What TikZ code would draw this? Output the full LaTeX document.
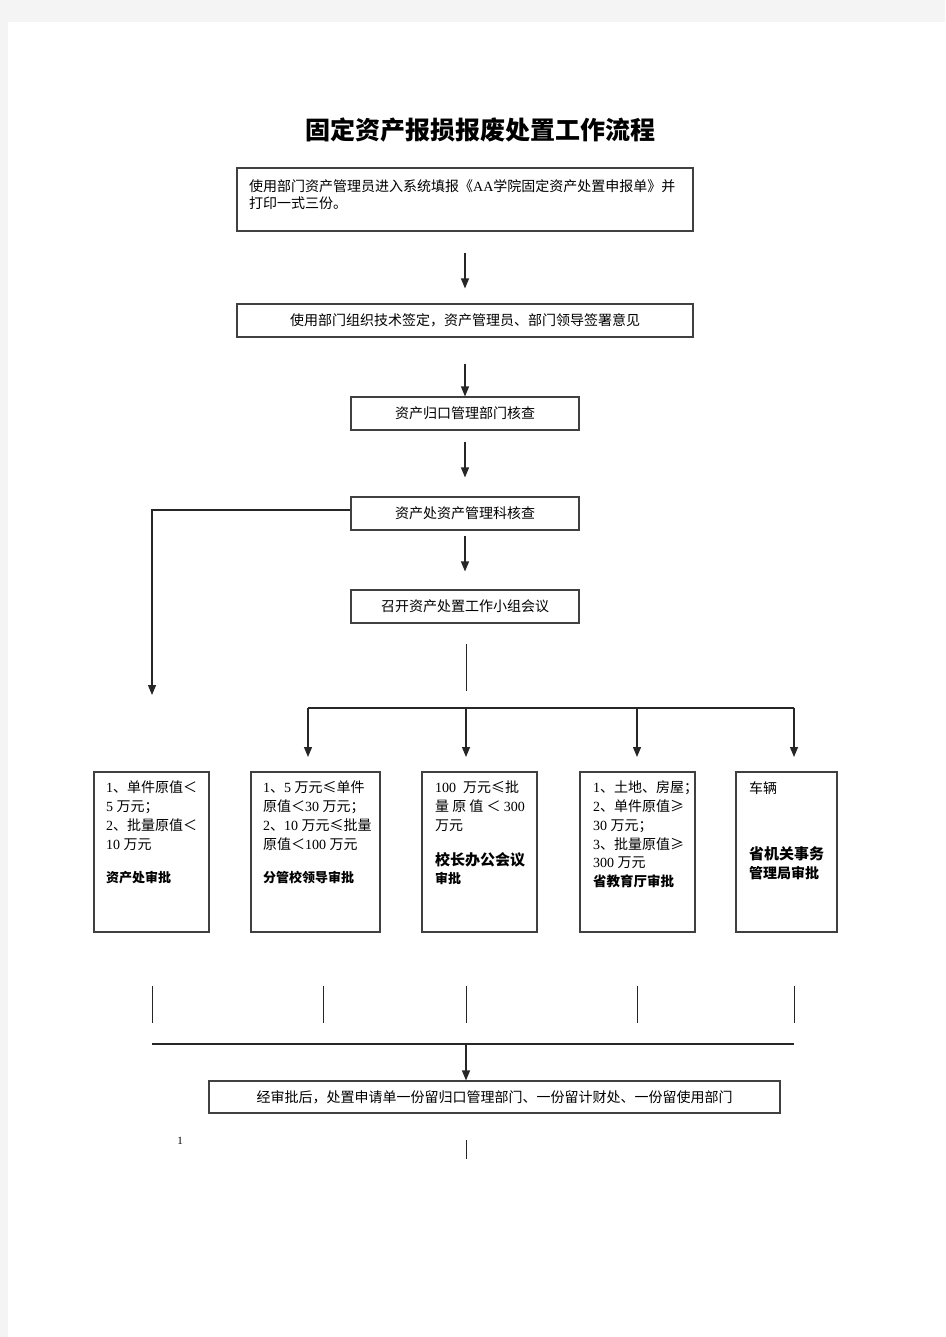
\documentclass[tikz,border=0pt]{standalone}
\usepackage{fontspec}
\setmainfont{Liberation Serif}
\newfontfamily\cjk{Noto Sans CJK SC}
\newfontfamily\tm{Liberation Serif}
\usetikzlibrary{arrows.meta}
\definecolor{pagegray}{HTML}{F4F4F4}

\begin{document}
\begin{tikzpicture}[x=1pt, y=-1pt, >={Triangle[width=8pt,length=10pt]}]
  \tikzstyle{box} = [draw=black!75, line width=1.1pt, inner sep=0pt, font=\cjk\fontsize{14}{18}\selectfont]
  \tikzstyle{txt} = [anchor=north west, inner sep=0pt, align=left, font=\cjk\fontsize{14}{18.7}\selectfont]
  \tikzstyle{flow} = [line width=1.2pt, draw=black!85]
  \tikzstyle{stub} = [line width=0.8pt, draw=black!85]
  \useasboundingbox (0,0) rectangle (945,1337);
  \fill[pagegray] (0,0) rectangle (945,1337);
  \fill[white] (8,22) rectangle (945,1337);

  \node (title) [font=\cjk\bfseries\fontsize{25}{25}\selectfont] at (480,130) {固定资产报损报废处置工作流程};

  \node (apply) [box, minimum width=456, minimum height=63] at (465,199.5) {};
  \node (applytext) [txt, font=\cjk\fontsize{14}{17.5}\selectfont] at (249,179)
    {使用部门资产管理员进入系统填报《{\tm AA}学院固定资产处置申报单》并\\打印一式三份。};
  \node (sign) [box, minimum width=456, minimum height=33] at (465,320.5) {使用部门组织技术签定，资产管理员、部门领导签署意见};
  \node (dept) [box, minimum width=228, minimum height=33] at (465,413.5) {资产归口管理部门核查};
  \node (check) [box, minimum width=228, minimum height=33] at (465,513.5) {资产处资产管理科核查};
  \node (meeting) [box, minimum width=228, minimum height=33] at (465,606.5) {召开资产处置工作小组会议};

  \draw[flow,->,shorten <=21pt,shorten >=15pt] (apply) -- (sign);
  \draw[flow,->,shorten <=26pt] (sign) -- (dept);
  \draw[flow,->,shorten <=11pt,shorten >=19pt] (dept) -- (check);
  \draw[flow,->,shorten <=5pt,shorten >=18pt] (check) -- (meeting);

  \coordinate (split) at (466,708);
  \coordinate (to1) at (152,695);
  \coordinate (to2) at (308,757);
  \coordinate (to3) at (466,757);
  \coordinate (to4) at (637,757);
  \coordinate (to5) at (794,757);
  \draw[flow,->] ([yshift=3.5pt]check.west) -| (to1);
  \draw[stub,shorten <=20pt,shorten >=17pt] (meeting.south -| split) -- (split);
  \draw[flow] (to2 |- split) -- (to5 |- split);
  \draw[flow,->] (to2 |- split) -- (to2);
  \draw[flow,->] (split) -- (to3);
  \draw[flow,->] (to4 |- split) -- (to4);
  \draw[flow,->] (to5 |- split) -- (to5);

  \node (r1) [box, minimum width=115, minimum height=160] at (151.5,852) {};
  \node (r2) [box, minimum width=129, minimum height=160] at (315.5,852) {};
  \node (r3) [box, minimum width=115, minimum height=160] at (479.5,852) {};
  \node (r4) [box, minimum width=115, minimum height=160] at (637.5,852) {};
  \node (r5) [box, minimum width=101, minimum height=160] at (786.5,852) {};

  \node (r1text) [txt] at (106,781)
    {{\tm 1}、单件原值＜\\{\tm 5\ }万元；\\{\tm 2}、批量原值＜\\{\tm 10\ }万元\\[15pt]{\bfseries\fontsize{13}{18.7}\selectfont 资产处审批}};
  \node (r2text) [txt] at (263,781)
    {{\tm 1}、{\tm 5\ }万元≤单件\\原值＜{\tm 30\ }万元；\\{\tm 2}、{\tm 10\ }万元≤批量\\原值＜{\tm 100\ }万元\\[15pt]{\bfseries\fontsize{13}{18.7}\selectfont 分管校领导审批}};
  \node (r3text) [txt] at (435,781)
    {{\tm 100\ \ }万元≤批\\量 原 值 ＜ {\tm 300}\\万元\\[16pt]{\bfseries\fontsize{15}{18}\selectfont 校长办公会议}\\{\bfseries\fontsize{13}{18}\selectfont 审批}};
  \node (r4text) [txt] at (593,781)
    {{\tm 1}、土地、房屋；\\{\tm 2}、单件原值≥\\{\tm 30\ }万元；\\{\tm 3}、批量原值≥\\{\tm 300\ }万元\\{\bfseries\fontsize{13.5}{18}\selectfont 省教育厅审批}};
  \node (r5text) [txt] at (749,781)
    {车辆\\[48pt]{\bfseries\fontsize{15}{18}\selectfont 省机关事务}\\{\bfseries\fontsize{14}{18}\selectfont 管理局审批}};

  \coordinate (s1) at (152,986);
  \coordinate (s2) at (323,986);
  \coordinate (s3) at (466,986);
  \coordinate (s4) at (637,986);
  \coordinate (s5) at (794,986);
  \coordinate (join) at (466,1044);
  \coordinate (tail) at (466,1159);
  \draw[stub,shorten >=21pt] (s1) -- (s1 |- join);
  \draw[stub,shorten >=21pt] (s2) -- (s2 |- join);
  \draw[stub,shorten >=21pt] (s3) -- (s3 |- join);
  \draw[stub,shorten >=21pt] (s4) -- (s4 |- join);
  \draw[stub,shorten >=21pt] (s5) -- (s5 |- join);
  \draw[flow] (s1 |- join) -- (s5 |- join);

  \node (final) [box, minimum width=571, minimum height=32] at (494.5,1097) {经审批后，处置申请单一份留归口管理部门、一份留计财处、一份留使用部门};
  \draw[flow,->] (join) -- (join |- final.north);
  \draw[stub,shorten <=26pt] (join |- final.south) -- (tail);

  \node (mark) [inner sep=0pt, font=\tm\fontsize{11}{11}\selectfont] at (180,1141) {1};
\end{tikzpicture}
\end{document}
